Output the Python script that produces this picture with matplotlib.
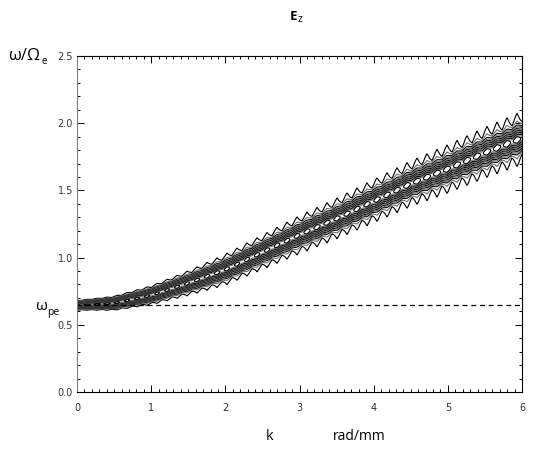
import numpy as np
import matplotlib
matplotlib.use('Agg')
import matplotlib.pyplot as plt
from matplotlib.ticker import MultipleLocator

### Values
# ridge of the dispersion band, omega/Omega_e vs k (rad/mm)
ridge_k = [0.0, 0.5, 1.0, 1.5, 2.0, 2.5, 3.0, 3.5, 4.0, 4.5, 5.0, 5.5, 6.0]
ridge_w = [0.645, 0.66, 0.72, 0.81, 0.91, 1.04, 1.17, 1.29, 1.42, 1.55, 1.66, 1.78, 1.89]
# width of the dark core of the band
width_k = [0.0, 1.0, 2.0, 3.0, 4.0, 5.0, 6.0]
width_w = [0.012, 0.02, 0.029, 0.034, 0.037, 0.04, 0.044]
# strength of the saw-tooth on the outer contours
jag_k = [0.0, 1.0, 2.0, 3.0, 4.0, 5.0, 6.0]
jag_w = [0.02, 0.05, 0.07, 0.08, 0.09, 0.1, 0.1]
omega_pe = 0.645
levels = [0.02, 0.05, 0.1, 0.15, 0.22, 0.3, 0.4, 0.5, 0.6, 0.7, 0.8, 0.9, 0.99]

xticks = [0, 1, 2, 3, 4, 5, 6]
yticks = [0.0, 0.5, 1.0, 1.5, 2.0, 2.5]

### Build the spectrum field from the read ridge
kk = np.linspace(0, 6, 90)
ww = np.linspace(0, 2.5, 900)
centre = np.interp(kk, ridge_k, ridge_w)
sig = np.interp(kk, width_k, width_w)
ped = np.interp(kk, jag_k, jag_w)
even = (np.arange(len(kk)) % 2 == 0).astype(float)
amp = 1 + 0.05 * (2 * even - 1)
K, W = np.meshgrid(kk, ww)
d = (W - centre[None, :]) / sig[None, :]
field = amp[None, :] * np.exp(-0.5 * d ** 2) + (even * ped)[None, :] * np.exp(-0.5 * (d / 2.5) ** 2)

fig = plt.figure(figsize=(5.39, 4.5), dpi=100)
ax = fig.add_axes([0.1429, 0.1289, 0.8256, 0.7467])

cols = ['black' if i % 2 == 0 else '#707070' for i in range(len(levels))]
ax.contour(K, W, field, levels=levels, colors=cols, linewidths=0.8)
ax.plot([0, 6], [omega_pe, omega_pe], color='black', linestyle=(0, (4, 3)), linewidth=0.9)

ax.set_xlim(0, 6)
ax.set_ylim(0, 2.5)
ax.set_xticks(xticks)
ax.set_yticks(yticks)
ax.set_xticklabels([str(t) for t in xticks])
ax.set_yticklabels(['%.1f' % t for t in yticks])
ax.xaxis.set_minor_locator(MultipleLocator(0.1))
ax.yaxis.set_minor_locator(MultipleLocator(0.1))
ax.tick_params(which='both', direction='in', top=True, right=True, width=0.7, colors='black',
               labelcolor='#333333', labelsize=7)
ax.tick_params(which='major', length=5)
ax.tick_params(which='minor', length=2.5)
ax.tick_params(axis='x', pad=8)
ax.tick_params(axis='y', pad=3)
for s in ax.spines.values():
    s.set_linewidth(0.8)
ax.spines['left'].set_color('#808080')

# titles and labels
fnt = 'Open Sans'
fig.text(297 / 539, 1 - 17 / 450, 'E', fontsize=9.5, fontweight='bold', family=fnt,
         ha='right', va='center')
fig.text(298 / 539, 1 - 19 / 450, 'z', fontsize=7.5, family=fnt, ha='left', va='center')
fig.text(8 / 539, 1 - 56 / 450, 'ω/Ω', fontsize=12, family=fnt, ha='left', va='center')
fig.text(42 / 539, 1 - 61 / 450, 'e', fontsize=7, family=fnt, ha='left', va='center')
fig.text(47 / 539, 1 - 307 / 450, 'ω', fontsize=11, family=fnt, ha='right', va='center')
fig.text(47 / 539, 1 - 313 / 450, 'pe', fontsize=7.5, family=fnt, ha='left', va='center')
fig.text(270 / 539, 1 - 436 / 450, 'k', fontsize=10.5, family=fnt, ha='center', va='center')
fig.text(359 / 539, 1 - 436 / 450, 'rad/mm', fontsize=10, family=fnt, ha='center', va='center')

fig.savefig('out.png', dpi=100)
